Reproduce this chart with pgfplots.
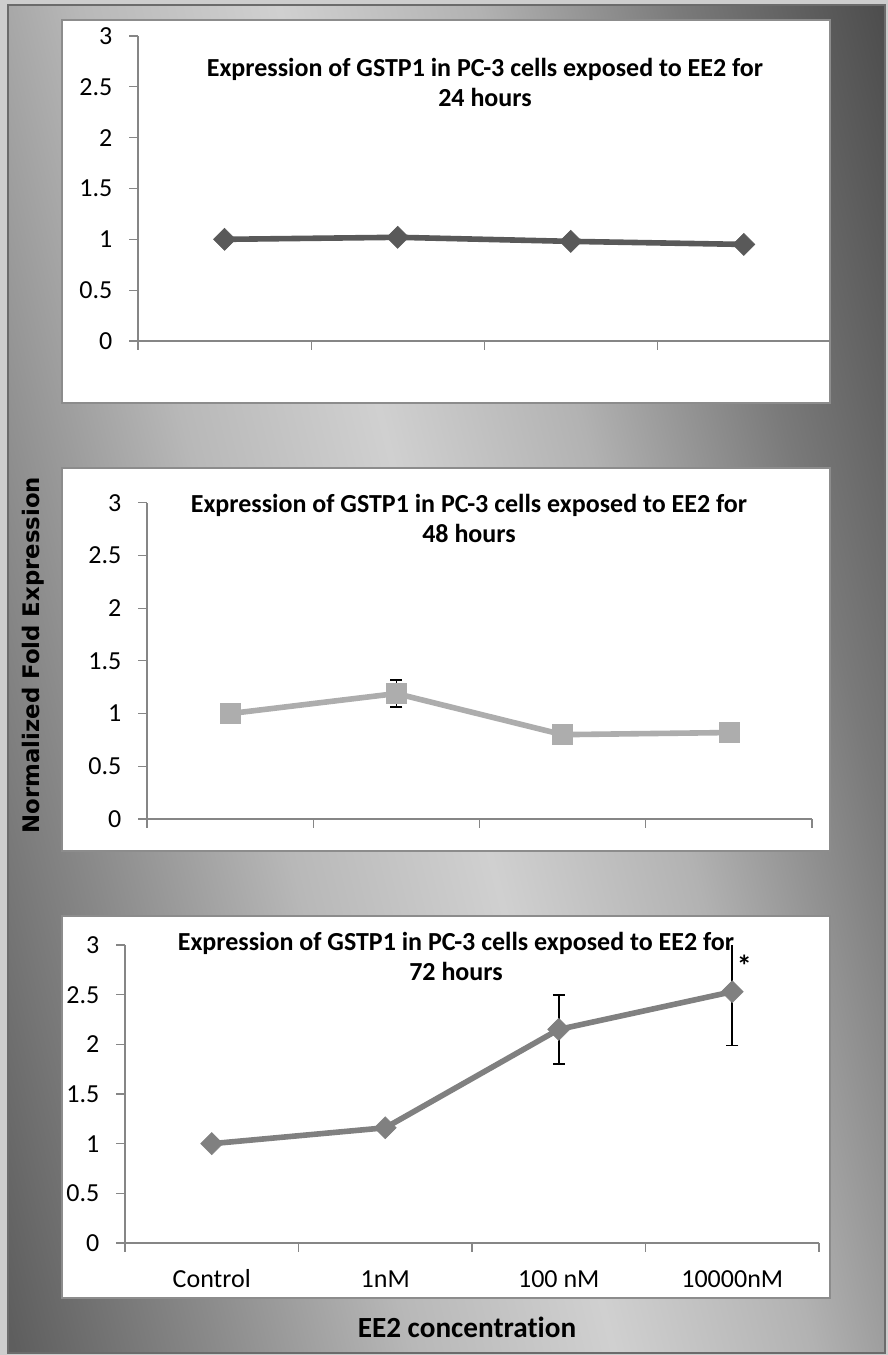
\documentclass[border=0pt]{standalone}
\usepackage{pgfplots}
\pgfplotsset{compat=1.18}
\usepackage{fontspec}
\setmainfont{Carlito}[Ligatures=NoCommon]
\newfontfamily\dejavu{DejaVu Sans}
\definecolor{axgray}{HTML}{868686}
\definecolor{s24}{HTML}{595959}
\definecolor{s48}{HTML}{ADADAD}
\definecolor{s72}{HTML}{808080}
\definecolor{panelbd}{HTML}{8C8C8C}
\definecolor{framebd}{HTML}{6B6B6B}
\pgfdeclareverticalshading{bgs}{100bp}{%
  color(0bp)=(rgb,255:red,94;green,94;blue,94);
  color(20bp)=(rgb,255:red,94;green,94;blue,94);
  color(30bp)=(rgb,255:red,138;green,138;blue,138);
  color(40bp)=(rgb,255:red,184;green,184;blue,184);
  color(50bp)=(rgb,255:red,208;green,208;blue,208);
  color(60bp)=(rgb,255:red,178;green,178;blue,178);
  color(70bp)=(rgb,255:red,122;green,122;blue,122);
  color(80bp)=(rgb,255:red,78;green,78;blue,78);
  color(100bp)=(rgb,255:red,78;green,78;blue,78)}

\pgfplotsset{
  panel/.style={
    scale only axis, axis lines=left,
    axis line style={axgray, line width=0.6pt, -},
    xmin=0.5, xmax=4.5, ymin=0, ymax=3,
    ytick={0,0.5,1,1.5,2,2.5,3}, yticklabels={0,0.5,1,1.5,2,2.5,3},
    xticklabels={},
    tick align=outside,
    major tick length=4.3pt,
    tick style={axgray, line width=0.6pt},
    tick label style={font=\fontsize{13}{15}\selectfont, text=black},
    yticklabel style={xshift=-5pt},
    anchor=south west, clip=true,
  },
  err/.style={error bars/.cd, y dir=both, y explicit,
    error bar style={black, line width=0.8pt, solid},
    error mark options={rotate=90, black, mark size=3pt, line width=0.8pt}},
}

\begin{document}
\begin{tikzpicture}
\useasboundingbox (0,0) rectangle (444pt,-677.5pt);
\fill[color={rgb,255:red,205;green,205;blue,205}] (0,0) rectangle (444pt,-677.5pt);
\shade[shading=bgs, shading angle=-76]
  (4pt,-2.5pt) rectangle (442.5pt,-676.5pt);
\draw[framebd, line width=0.9pt] (4pt,-2.5pt) rectangle (442.5pt,-676.5pt);

% panels
\filldraw[fill=white, draw=panelbd, line width=0.6pt] (31pt,-10pt) rectangle (415pt,-201.5pt);
\filldraw[fill=white, draw=panelbd, line width=0.6pt] (31pt,-234pt) rectangle (415pt,-425.5pt);
\filldraw[fill=white, draw=panelbd, line width=0.6pt] (31pt,-458pt) rectangle (415pt,-649pt);

% 24 hours
\begin{axis}[panel, at={(69pt,-170.5pt)}, width=346.2pt, height=152.5pt,
  xtick={0.5,1.5,2.5,3.5}]
\addplot[s24, line width=2.8pt, mark=square*, mark size=3.9pt,
  mark options={rotate=45, solid, line width=0.3pt, fill=s24, draw=s24}]
  coordinates {(1,1.00) (2,1.02) (3,0.98) (4,0.95)};
\end{axis}

% 48 hours
\begin{axis}[panel, at={(73.5pt,-409.5pt)}, width=332.5pt, height=158.15pt,
  xtick={0.5,1.5,2.5,3.5,4.5}]
\addplot[draw=none, mark=none, forget plot, err]
  coordinates {(2,1.19) +- (0,0.13)};
\addplot[s48, line width=2.8pt, mark=square*, mark size=5pt,
  mark options={solid, line width=0.3pt, fill=s48, draw=s48}]
  coordinates {(1,1.00) (2,1.19) (3,0.80) (4,0.82)};
\end{axis}

% 72 hours
\begin{axis}[panel, at={(62.5pt,-621.5pt)}, width=347pt, height=149pt,
  xtick={0.5,1.5,2.5,3.5,4.5},
  extra x ticks={1,2,3,4},
  extra x tick labels={Control,1nM,100 nM,10000nM},
  extra x tick style={major tick length=0pt,
    xticklabel style={anchor=base, yshift=-22pt, font=\fontsize{13}{15}\selectfont}}]
\addplot[draw=none, mark=none, forget plot, err]
  coordinates {(2,1.16) +- (0,0.03) (3,2.15) +- (0,0.345) (4,2.53) +- (0,0.54)};
\addplot[s72, line width=2.8pt, mark=square*, mark size=3.9pt,
  mark options={rotate=45, solid, line width=0.3pt, fill=s72, draw=s72}]
  coordinates {(1,1.00) (2,1.16) (3,2.15) (4,2.53)};
\node[font=\fontsize{15}{17}\selectfont\bfseries] at (axis cs:4.07,2.79) {*};
\end{axis}

% titles
\node[align=center, font=\fontsize{13}{15}\selectfont\bfseries] at (242.5pt,-41pt)
  {Expression of GSTP1 in PC-3 cells exposed to EE2 for\\24 hours};
\node[align=center, font=\fontsize{13}{15}\selectfont\bfseries] at (234.5pt,-259pt)
  {Expression of GSTP1 in PC-3 cells exposed to EE2 for\\48 hours};
\node[align=center, font=\fontsize{13}{15}\selectfont\bfseries] at (228pt,-478pt)
  {Expression of GSTP1 in PC-3 cells exposed to EE2 for\\72 hours};

% axis labels
\node[rotate=90, font=\dejavu\bfseries\fontsize{11.4}{13}\selectfont] at (16.5pt,-327.5pt)
  {Normalized Fold Expression};
\node[font=\fontsize{14.6}{17}\selectfont\bfseries] at (233.5pt,-663.5pt) {EE2 concentration};
\end{tikzpicture}
\end{document}
